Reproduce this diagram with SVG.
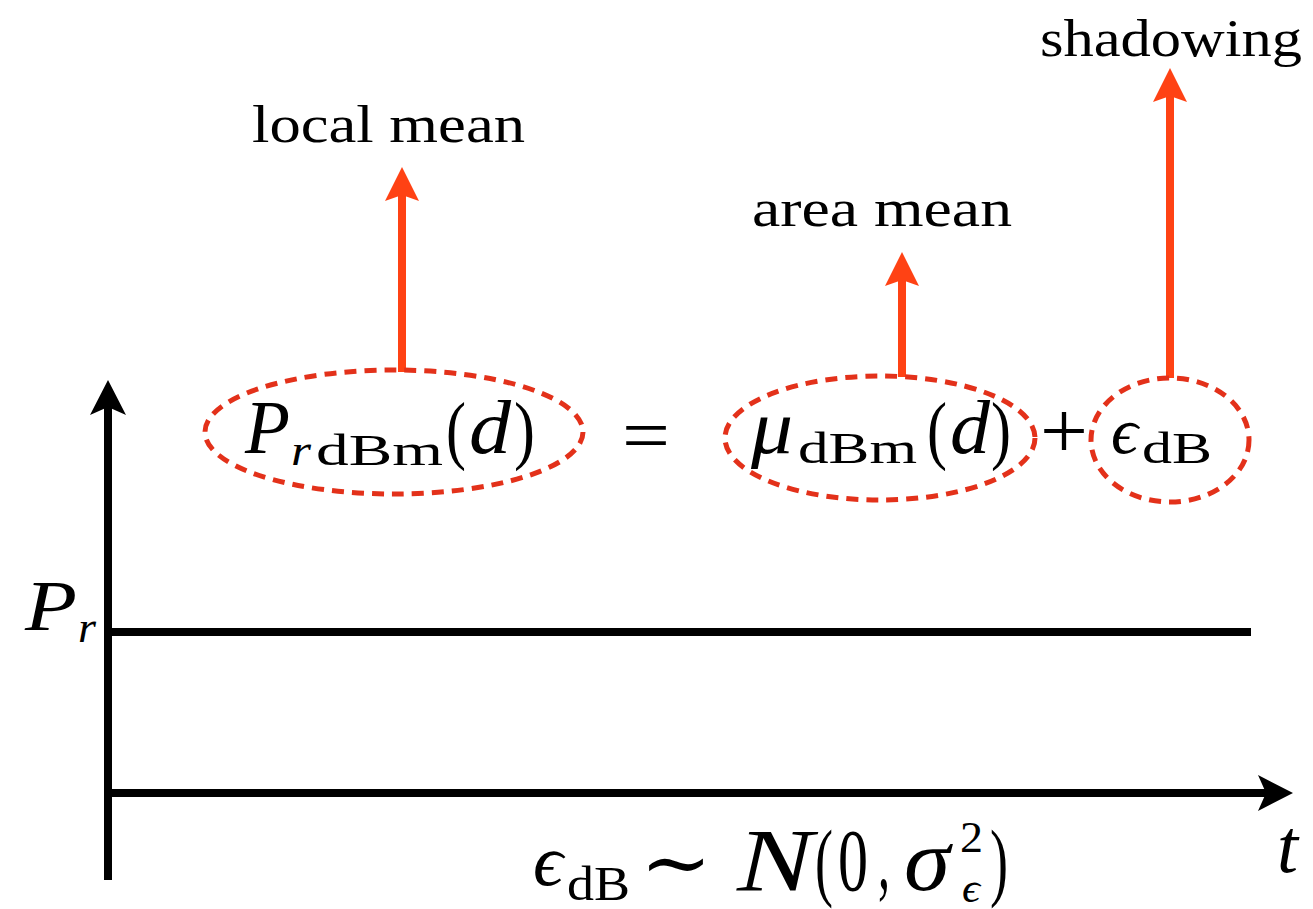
<svg xmlns="http://www.w3.org/2000/svg" width="1313" height="909" viewBox="0 0 1313 909">
<style>
.lbl{font-family:"Liberation Serif","DejaVu Serif",serif;font-size:52px;fill:#000}
.m{font-family:"Liberation Serif","DejaVu Serif",serif;fill:#000}
.it{font-style:italic}
.big{font-size:77px}
.sub{font-size:44px}
.ell{fill:none;stroke:#E3311A;stroke-width:5;stroke-dasharray:12 8}
.red{stroke:#FF4214;stroke-width:8;fill:none}
.redh{fill:#FF4214}
.blk{stroke:#000;stroke-width:8;fill:none}
</style>
<rect width="1313" height="909" fill="#fff"/>
<g id="connectors">
  <line class="blk" x1="108" y1="880" x2="108" y2="400"/>
  <path d="M108,380 L126,415 L108,407 L90,415 Z" fill="#000"/>
  <line class="blk" x1="104" y1="793" x2="1272" y2="793"/>
  <path d="M1293,793 L1258,775 L1266,793 L1258,811 Z" fill="#000"/>
  <line class="blk" x1="108" y1="632" x2="1251" y2="632"/>
  <line class="red" x1="402" y1="372" x2="402" y2="192"/>
  <path class="redh" d="M402,167 L419,201 L402,195 L385,201 Z"/>
  <line class="red" x1="902" y1="377" x2="902" y2="278"/>
  <path class="redh" d="M902,252 L919,286 L902,280 L885,286 Z"/>
  <line class="red" x1="1170" y1="378" x2="1170" y2="94"/>
  <path class="redh" d="M1170,68 L1187,102 L1170,96 L1153,102 Z"/>
</g>
<g id="node-local">
  <ellipse class="ell" cx="394" cy="432" rx="189" ry="62"/>
  <text class="m it big" x="245" y="453" textLength="45" lengthAdjust="spacingAndGlyphs">P</text>
  <text class="m it sub" x="291" y="465" textLength="20" lengthAdjust="spacingAndGlyphs">r</text>
  <text class="m sub" x="316" y="465" textLength="127" lengthAdjust="spacingAndGlyphs">dBm</text>
  <text class="m big" x="446" y="455" textLength="20" lengthAdjust="spacingAndGlyphs">(</text>
  <text class="m it big" x="469" y="453" textLength="42" lengthAdjust="spacingAndGlyphs">d</text>
  <text class="m big" x="514" y="455" textLength="21" lengthAdjust="spacingAndGlyphs">)</text>
</g>
<g id="node-equals">
  <text class="m big" x="622" y="461" textLength="48" lengthAdjust="spacingAndGlyphs">=</text>
</g>
<g id="node-area">
  <ellipse class="ell" cx="880" cy="438" rx="155" ry="62"/>
  <text class="m it big" x="751" y="453" textLength="42" lengthAdjust="spacingAndGlyphs">μ</text>
  <text class="m sub" x="798" y="463" textLength="119" lengthAdjust="spacingAndGlyphs">dBm</text>
  <text class="m big" x="927" y="455" textLength="20" lengthAdjust="spacingAndGlyphs">(</text>
  <text class="m it big" x="950" y="453" textLength="40" lengthAdjust="spacingAndGlyphs">d</text>
  <text class="m big" x="991" y="455" textLength="20" lengthAdjust="spacingAndGlyphs">)</text>
</g>
<g id="node-plus">
  <text class="m" font-size="80" x="1040" y="458" textLength="48" lengthAdjust="spacingAndGlyphs">+</text>
</g>
<g id="node-shadow">
  <ellipse class="ell" cx="1170" cy="440" rx="79" ry="62"/>
  <text class="m it" font-size="66" x="1111" y="453" textLength="27" lengthAdjust="spacingAndGlyphs">ϵ</text>
  <text class="m sub" x="1142" y="463" textLength="70" lengthAdjust="spacingAndGlyphs">dB</text>
</g>
<g id="labels">
  <text class="lbl" x="252" y="142" textLength="273" lengthAdjust="spacingAndGlyphs">local mean</text>
  <text class="lbl" x="752" y="226" textLength="260" lengthAdjust="spacingAndGlyphs">area mean</text>
  <text class="lbl" x="1040" y="56" textLength="262" lengthAdjust="spacingAndGlyphs">shadowing</text>
</g>
<g id="axis-labels">
  <text class="m it" font-size="71" x="25" y="630" textLength="52" lengthAdjust="spacingAndGlyphs">P</text>
  <text class="m it sub" x="78" y="642" textLength="18" lengthAdjust="spacingAndGlyphs">r</text>
  <text class="m it" font-size="76" x="1277" y="872" textLength="21" lengthAdjust="spacingAndGlyphs">t</text>
</g>
<g id="distribution">
  <text class="m it" font-size="72" x="533" y="885" textLength="30" lengthAdjust="spacingAndGlyphs">ϵ</text>
  <text class="m" font-size="48" x="567" y="900" textLength="63" lengthAdjust="spacingAndGlyphs">dB</text>
  <text class="m" font-size="80" x="640" y="890" textLength="72" lengthAdjust="spacingAndGlyphs">∼</text>
  <text class="m it" font-size="88" x="737" y="890" textLength="76" lengthAdjust="spacingAndGlyphs">N</text>
  <text class="m" font-size="86" x="815" y="890" textLength="18" lengthAdjust="spacingAndGlyphs">(</text>
  <text class="m" font-size="88" x="838" y="890" textLength="30" lengthAdjust="spacingAndGlyphs">0</text>
  <text class="m" font-size="88" x="878" y="888" textLength="12" lengthAdjust="spacingAndGlyphs">,</text>
  <text class="m it" font-size="88" x="904" y="890" textLength="46" lengthAdjust="spacingAndGlyphs">σ</text>
  <text class="m" font-size="45" x="960" y="852" textLength="23" lengthAdjust="spacingAndGlyphs">2</text>
  <text class="m it" font-size="42" x="962" y="902" textLength="18" lengthAdjust="spacingAndGlyphs">ϵ</text>
  <text class="m" font-size="86" x="990" y="890" textLength="18" lengthAdjust="spacingAndGlyphs">)</text>
</g>
</svg>
